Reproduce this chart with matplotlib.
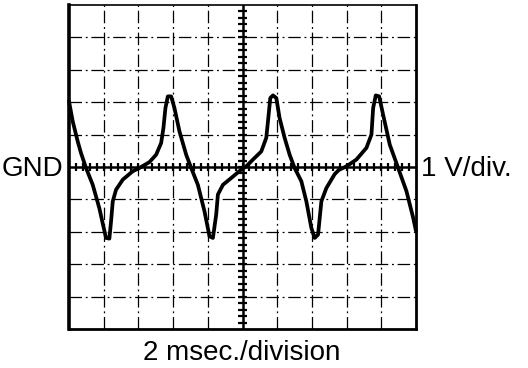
import numpy as np
import matplotlib.pyplot as plt

# trace: x in divisions (2 ms each), y in volts (1 V/div)
trace_x = [0.0, 0.107, 0.251, 0.346, 0.491, 0.684, 0.874, 1.001, 1.068, 1.163,
           1.212, 1.261, 1.356, 1.550, 1.838, 2.029, 2.318, 2.511, 2.655, 2.721,
           2.779, 2.848, 2.944, 3.039, 3.183, 3.377, 3.521, 3.714, 3.905, 4.049,
           4.147, 4.242, 4.291, 4.436, 4.675, 4.964, 5.108, 5.302, 5.541, 5.685,
           5.734, 5.801, 5.879, 5.974, 6.069, 6.214, 6.358, 6.502, 6.696, 6.840,
           6.984, 7.080, 7.177, 7.273, 7.417, 7.657, 7.778, 7.994, 8.283, 8.571,
           8.716, 8.765, 8.840, 8.938, 9.053, 9.244, 9.486, 9.726, 9.919, 10.0]
trace_v = [2.03, 1.41, 0.79, 0.43, -0.03, -0.55, -1.27, -1.88, -2.19, -2.21,
           -1.68, -1.06, -0.70, -0.39, -0.13, -0.03, 0.15, 0.38, 0.74, 1.20,
           1.82, 2.18, 2.18, 1.82, 1.10, 0.38, -0.03, -0.55, -1.37, -2.14,
           -2.19, -1.47, -0.85, -0.55, -0.34, -0.08, 0.02, 0.23, 0.48, 0.90,
           1.41, 2.13, 2.21, 2.13, 1.51, 0.90, 0.38, -0.03, -0.44, -1.06,
           -1.88, -2.19, -2.09, -1.06, -0.65, -0.22, -0.09, 0.02, 0.23, 0.59,
           1.00, 1.82, 2.21, 2.18, 1.61, 0.69, -0.03, -0.75, -1.57, -1.98]

gnd_label = "GND"
volt_label = "1 V/div."
time_label = "2 msec./division"

fig = plt.figure(figsize=(5.28, 3.68), dpi=100)
ax = fig.add_axes([69 / 528, 39 / 368, 347 / 528, 324 / 368])
ax.set_xlim(0, 10)
ax.set_ylim(-5, 5)
ax.set_xticks([])
ax.set_yticks([])

# graticule
for i in range(1, 10):
    if i != 5:
        ax.axvline(i, color='black', lw=0.9, ls=(0, (10, 3, 1.5, 3)))
        ax.axhline(i - 5, color='black', lw=0.9, ls=(0, (10, 3, 1.5, 3)))
ax.axvline(5, color='black', lw=1.8)
ax.axhline(0, color='black', lw=1.8)
minor = np.arange(0.2, 10, 0.2)
ax.vlines(minor, -0.13, 0.13, color='black', lw=1.6)
ax.hlines(minor - 5, 4.87, 5.13, color='black', lw=1.6)

for side, w in [('left', 2.6), ('right', 2.0), ('bottom', 2.0), ('top', 1.2)]:
    ax.spines[side].set_linewidth(w)

ax.plot(trace_x, trace_v, color='black', lw=2.7, solid_joinstyle='round',
        solid_capstyle='round', clip_on=False)

font = dict(family='Liberation Sans', fontsize=20, color='black')
fig.text(63 / 528, (368 - 176) / 368, gnd_label, ha='right', va='baseline', **font)
fig.text(421 / 528, (368 - 176) / 368, volt_label, ha='left', va='baseline', **font)
fig.text(242 / 528, (368 - 360) / 368, time_label, ha='center', va='baseline', **font)

fig.savefig('out.png', dpi=100)
